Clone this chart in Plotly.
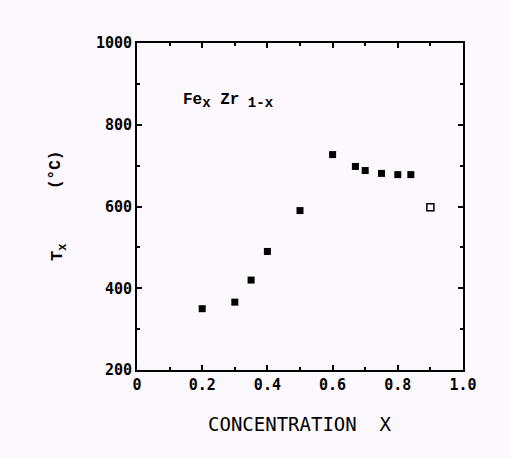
import plotly.graph_objects as go

# Fe_x Zr_1-x : crystallization temperature vs. iron concentration
conc_filled = [0.2, 0.3, 0.35, 0.4, 0.5, 0.6, 0.67, 0.7, 0.75, 0.8, 0.84]
temp_filled = [350, 366, 420, 490, 590, 727, 698, 688, 681, 678, 678]
conc_open = [0.9]
temp_open = [598]

x_tickvals = [0, 0.2, 0.4, 0.6, 0.8, 1.0]
x_ticktext = ["0", "0.2", "0.4", "0.6", "0.8", "1.0"]
y_tickvals = [200, 400, 600, 800, 1000]

BG = "#fdf8fd"
TICK_FONT = dict(family="DejaVu Sans Mono", size=15, color="black", weight="bold")

fig = go.Figure()
fig.add_trace(go.Scatter(
    x=conc_filled, y=temp_filled, mode="markers",
    marker=dict(symbol="square", size=7, color="black", line=dict(width=0)),
    showlegend=False,
))
fig.add_trace(go.Scatter(
    x=conc_open, y=temp_open, mode="markers",
    marker=dict(symbol="square-open", size=7, color="black", line=dict(width=1.5)),
    showlegend=False,
))

axis_common = dict(
    showgrid=False, zeroline=False, showline=True, linecolor="black", linewidth=2,
    mirror="allticks", ticks="inside", ticklen=5, tickwidth=1.5, tickcolor="black",
    tickfont=TICK_FONT,
)
fig.update_xaxes(
    range=[0, 1.0], tickvals=x_tickvals, ticktext=x_ticktext,
    minor=dict(dtick=0.1, ticks="inside", ticklen=3, tickcolor="black"),
    **axis_common,
)
fig.update_yaxes(
    range=[200, 1000], tickvals=y_tickvals,
    minor=dict(dtick=100, ticks="inside", ticklen=3, tickcolor="black"),
    **axis_common,
)

SUB = "<sub><span style='font-size:14px'>{}</span></sub>"
fig.add_annotation(
    x=0.135, y=858, xref="x", yref="y", xanchor="left", yanchor="middle",
    text="Fe" + SUB.format("x") + " Zr" + SUB.format("\u00a01-x"), showarrow=False,
    font=dict(family="Liberation Mono", size=16, color="black", weight="bold"),
)
fig.add_annotation(
    x=300, y=437, xref="paper", yref="paper", showarrow=False,
    text="CONCENTRATION  X",
    font=dict(family="DejaVu Sans Mono", size=19, color="black"),
)
fig.add_annotation(
    x=46, y=253, xref="paper", yref="paper", showarrow=False, textangle=-90,
    text="T<sub>x</sub>",
    font=dict(family="Liberation Mono", size=17, color="black", weight="bold"),
)
fig.add_annotation(
    x=45, y=170, xref="paper", yref="paper", showarrow=False, textangle=-90,
    text="(°C)",
    font=dict(family="Liberation Mono", size=16, color="black", weight="bold"),
)

# annotations above use pixel positions; convert to paper fractions
W, H = 510, 458
L, R, T, B = 137, 47, 43, 88
pw, ph = W - L - R, H - T - B
for ann in fig.layout.annotations[1:]:
    px, py = ann.x, ann.y
    ann.x = (px - L) / pw
    ann.y = 1 - (py - T) / ph

fig.update_layout(
    width=W, height=H,
    margin=dict(l=L, r=R, t=T, b=B),
    paper_bgcolor=BG, plot_bgcolor=BG,
)

fig.write_html("out.html")
